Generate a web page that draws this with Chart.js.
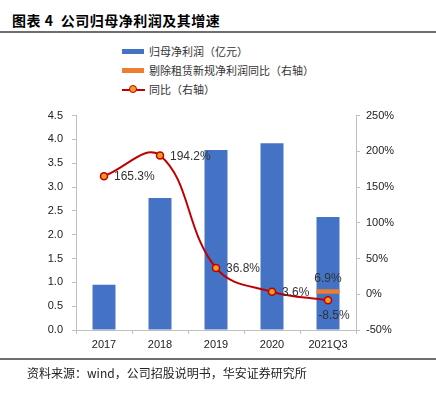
<!DOCTYPE html>
<html>
<head>
<meta charset="utf-8">
<script src="https://cdn.jsdelivr.net/npm/chart.js@4.4.1/dist/chart.umd.min.js"></script>
<style>
  html, body { margin:0; padding:0; background:#fff; }
  body { width:436px; height:393px; position:relative; overflow:hidden; font-family:"Noto Sans CJK SC", sans-serif; }
  #title { position:absolute; left:12px; top:10px; font-size:14px; font-weight:bold; color:#000; line-height:20px; letter-spacing:0.5px; }
  #topline { position:absolute; left:0; top:31px; width:436px; height:2px; background:#6e6e6e; }
  #botline { position:absolute; left:0; top:358px; width:436px; height:2px; background:#6e6e6e; }
  #source { position:absolute; left:27px; top:364px; font-size:12px; color:#222; line-height:18px; }
  #legend { position:absolute; left:122px; top:42px; font-size:11px; color:#333; }
  .li { position:relative; height:19px; line-height:18px; padding-left:27px; white-space:nowrap; }
  .sw { position:absolute; left:0; top:7px; width:22px; height:5px; }
  .ln { position:absolute; left:0; top:9px; width:23px; height:2px; background:#C00000; }
  .dot { position:absolute; left:7px; top:5px; width:6px; height:6px; border-radius:50%; background:#F59A23; border:1.5px solid #C00000; }
  #wrap { position:absolute; left:0; top:100px; width:436px; height:260px; }
</style>
</head>
<body>
<div id="title">图表 4&nbsp; 公司归母净利润及其增速</div>
<div id="topline"></div>
<div id="legend">
  <div class="li"><span class="sw" style="background:#4472C4"></span>归母净利润（亿元）</div>
  <div class="li"><span class="sw" style="background:#ED7D31"></span>剔除租赁新规净利润同比（右轴）</div>
  <div class="li"><span class="ln"></span><span class="dot"></span>同比（右轴）</div>
</div>
<div id="wrap"><canvas id="c" width="436" height="260"></canvas></div>
<div id="botline"></div>
<div id="source">资料来源：wind，公司招股说明书，华安证券研究所</div>
<script>
const categories = ['2017', '2018', '2019', '2020', '2021Q3'];
const netProfit = [0.95, 2.77, 3.78, 3.92, 2.37];
const adjGrowth = [null, null, null, null, 6.9];
const growth = [165.3, 194.2, 36.8, 3.6, -8.5];
const leftTicks = [0, 0.5, 1.0, 1.5, 2.0, 2.5, 3.0, 3.5, 4.0, 4.5];
const rightTicks = [-50, 0, 50, 100, 150, 200, 250];

const growthLabelPlace = ['right', 'right', 'right', 'right', 'below'];
const axisGray = '#BFBFBF';
const tickFont = { family: 'Liberation Sans, Arial, sans-serif', size: 11 };

const labelPlugin = {
  id: 'labels',
  afterDatasetsDraw(chart) {
    const ctx = chart.ctx;
    ctx.save();
    ctx.font = '12px "Liberation Sans", Arial, sans-serif';
    ctx.fillStyle = '#333';
    ctx.textBaseline = 'middle';
    const lineMeta = chart.getDatasetMeta(0);
    lineMeta.data.forEach((pt, i) => {
      const txt = growth[i].toFixed(1) + '%';
      if (growthLabelPlace[i] === 'right') {
        ctx.textAlign = 'left';
        ctx.fillText(txt, pt.x + 10, pt.y + 1);
      } else {
        ctx.textAlign = 'center';
        ctx.fillText(txt, pt.x + 6, pt.y + 15);
      }
    });
    const orMeta = chart.getDatasetMeta(1);
    orMeta.data.forEach((bar, i) => {
      if (adjGrowth[i] == null) return;
      ctx.textAlign = 'center';
      ctx.fillText(adjGrowth[i].toFixed(1) + '%', bar.x, bar.y - 11);
    });
    ctx.restore();
  }
};

new Chart(document.getElementById('c'), {
  type: 'bar',
  data: {
    labels: categories,
    datasets: [
      { type: 'line', label: '同比（右轴）', data: growth, yAxisID: 'y1', order: 0,
        borderColor: '#C00000', borderWidth: 2, tension: 0.4, cubicInterpolationMode: 'default',
        pointRadius: 3.5, pointBorderWidth: 1.5, pointBackgroundColor: '#F59A23', pointBorderColor: '#C00000', fill: false },
      { label: '剔除租赁新规净利润同比（右轴）', data: adjGrowth, yAxisID: 'y1', order: 1, grouped: false,
        backgroundColor: '#ED7D31', barPercentage: 0.41, categoryPercentage: 1.0 },
      { label: '归母净利润（亿元）', data: netProfit, yAxisID: 'y', order: 2, grouped: false,
        backgroundColor: '#4472C4', barPercentage: 0.41, categoryPercentage: 1.0 }
    ]
  },
  options: {
    responsive: false,
    animation: false,
    layout: { padding: { top: 7, left: 0, right: 0, bottom: 0 } },
    plugins: { legend: { display: false }, tooltip: { enabled: false } },
    scales: {
      x: {
        offset: true,
        grid: { display: true, drawOnChartArea: false, drawTicks: true, tickLength: 4, color: axisGray, offset: true },
        border: { display: true, color: axisGray, width: 1 },
        ticks: { color: '#222', font: tickFont, padding: 4, maxRotation: 0 },
        afterFit(s) { s.height = 30; }
      },
      y: {
        position: 'left', min: 0, max: 4.5,
        afterBuildTicks(s) { s.ticks = leftTicks.map(v => ({ value: v })); },
        grid: { display: true, drawOnChartArea: false, drawTicks: true, tickLength: 4, color: axisGray },
        border: { display: true, color: axisGray, width: 1 },
        ticks: { color: '#222', font: tickFont, padding: 9, callback: v => v.toFixed(1) },
        afterFit(s) { s.width = 76; }
      },
      y1: {
        position: 'right', min: -50, max: 250,
        afterBuildTicks(s) { s.ticks = rightTicks.map(v => ({ value: v })); },
        grid: { display: true, drawOnChartArea: false, drawTicks: true, tickLength: 4, color: axisGray },
        border: { display: true, color: axisGray, width: 1 },
        ticks: { color: '#222', font: tickFont, padding: 6, callback: v => v + '%' },
        afterFit(s) { s.width = 80; }
      }
    }
  },
  plugins: [labelPlugin]
});
</script>
</body>
</html>
